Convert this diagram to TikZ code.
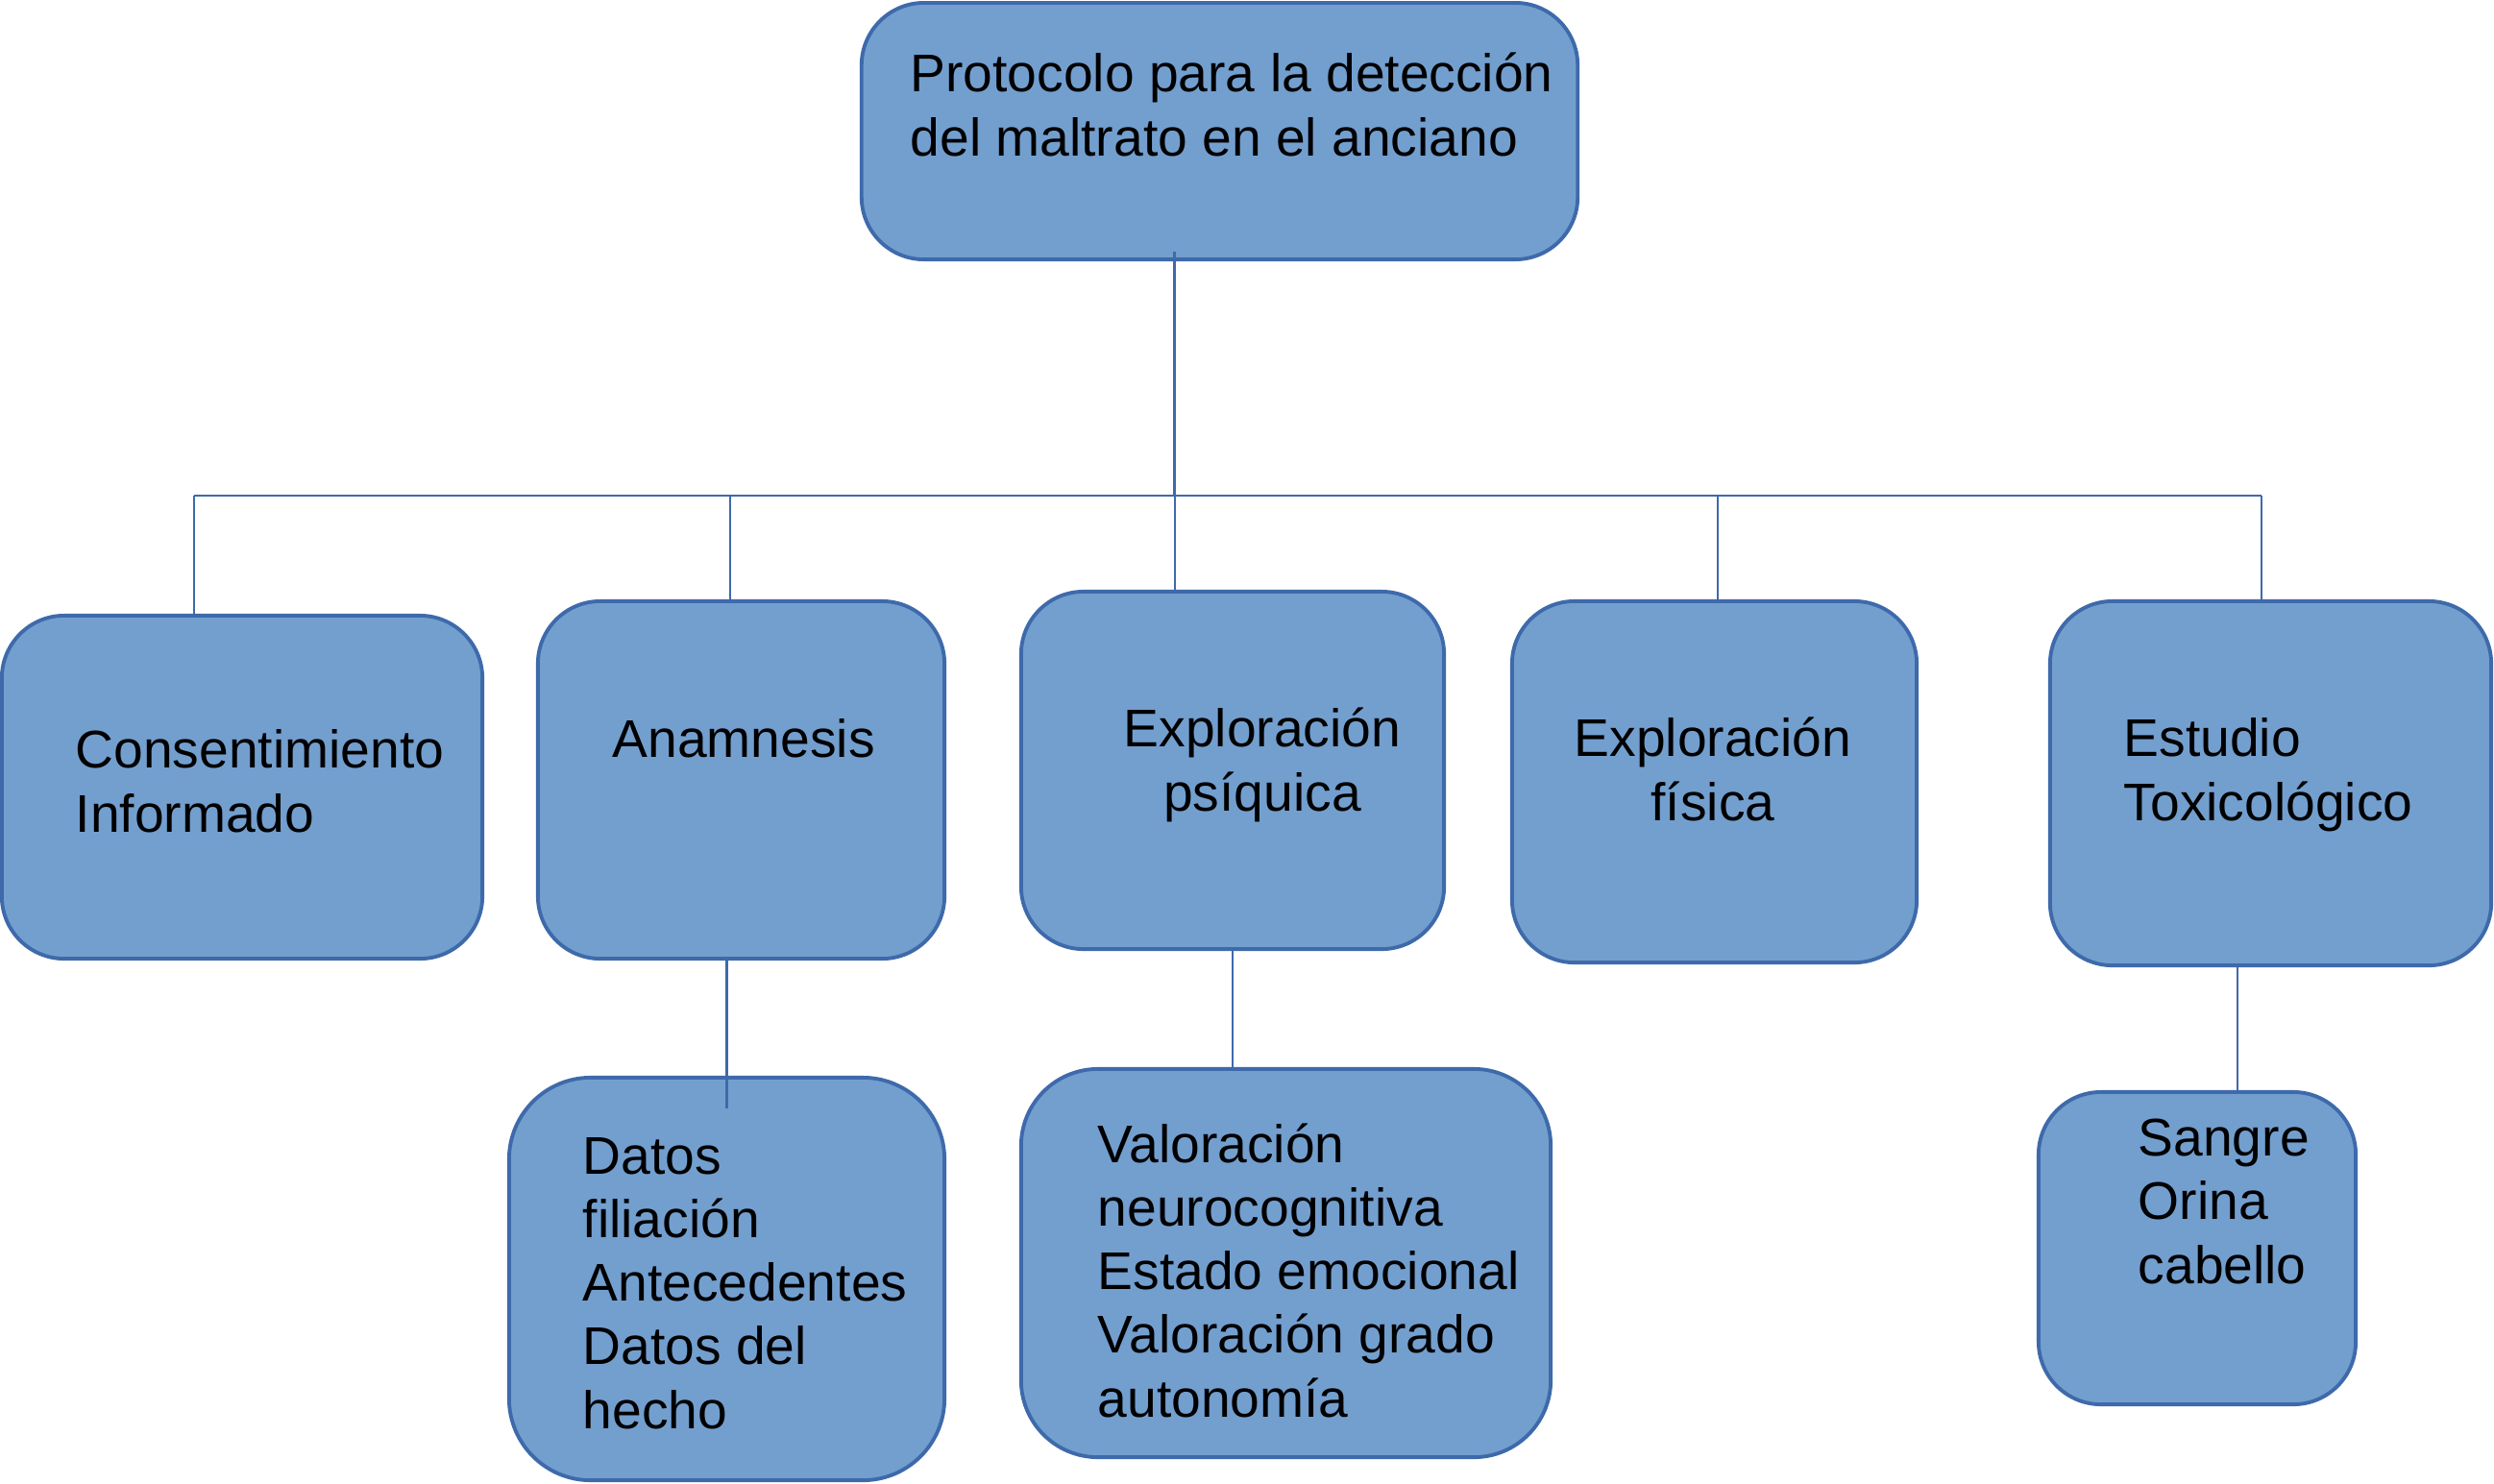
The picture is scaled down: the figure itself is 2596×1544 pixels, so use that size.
\documentclass[tikz,border=0pt]{standalone}
\usepackage{fontspec}
\setmainfont{Liberation Sans}
\definecolor{boxfill}{RGB}{115,159,207}
\definecolor{boxline}{RGB}{62,106,171}

\begin{document}
\begin{tikzpicture}[x=0.01cm, y=-0.01cm,
		box/.style = {draw = boxline, fill = boxfill, line width = 1.1pt, rounded corners = 0.65cm, inner sep = 0pt},
		txt/.style = {font = \fontsize{15.7pt}{18.8pt}\selectfont, inner sep = 0pt, anchor = base west, align = left},
		link/.style = {draw = boxline, line width = 0.7pt}]
		\useasboundingbox (0,0) rectangle (2596,1544);
		% cajas
		\node[box, minimum width = 7.45cm, minimum height = 2.67cm] (top) at (1269.5,136.5) {};
		\node[box, minimum width = 5.00cm, minimum height = 3.57cm] (c1) at (252,819.5) {};
		\node[box, minimum width = 4.23cm, minimum height = 3.72cm] (c2) at (771.5,812) {};
		\node[box, minimum width = 4.40cm, minimum height = 3.72cm] (c3) at (1283,802) {};
		\node[box, minimum width = 4.21cm, minimum height = 3.76cm] (c4) at (1784.5,814) {};
		\node[box, minimum width = 4.59cm, minimum height = 3.79cm] (c5) at (2363.5,815.5) {};
		\node[box, rounded corners = 0.85cm, minimum width = 4.53cm, minimum height = 4.19cm] (d2) at (756.5,1331.5) {};
		\node[box, rounded corners = 0.8cm, minimum width = 5.51cm, minimum height = 4.04cm] (d3) at (1338.5,1315) {};
		\node[box, minimum width = 3.30cm, minimum height = 3.25cm] (d5) at (2287,1299.5) {};
		% textos (base = ultima linea)
		\node[txt] (ttop) at (947,162) {Protocolo para la detección\\del maltrato en el anciano};
		\node[txt] (t1) at (78,866) {Consentimiento\\Informado};
		\node[txt] (t2) at (637,788) {Anamnesis};
		\node[txt, anchor = base, align = center] (t3) at (1314,844) {Exploración\\psíquica};
		\node[txt, anchor = base, align = center] (t4) at (1783,854) {Exploración\\física};
		\node[txt] (t5) at (2210,854) {Estudio\\Toxicológico};
		\node[txt] (t6) at (606,1487) {Datos\\filiación\\Antecedentes\\Datos del\\hecho};
		\node[txt] (t7) at (1142,1475) {Valoración\\neurocognitiva\\Estado emocional\\Valoración grado\\autonomía};
		\node[txt] (t8) at (2225,1336) {Sangre\\Orina\\cabello};
		% conectores
		\coordinate (bar) at (0,516);
		\draw[link] ([xshift=-0.47cm,yshift=0.1cm]top.south) -- ([xshift=-0.47cm]top.south |- bar);
		\draw[link] ([xshift=-0.5cm]c1.north |- bar) -- ([xshift=-0.095cm]c5.north |- bar);
		\draw[link] ([xshift=-0.5cm]c1.north) -- ([xshift=-0.5cm]c1.north |- bar);
		\draw[link] ([xshift=-0.115cm]c2.north) -- ([xshift=-0.115cm]c2.north |- bar);
		\draw[link] ([xshift=-0.6cm]c3.north) -- ([xshift=-0.6cm]c3.north |- bar);
		\draw[link] ([xshift=0.035cm]c4.north) -- ([xshift=0.035cm]c4.north |- bar);
		\draw[link] ([xshift=-0.095cm]c5.north) -- ([xshift=-0.095cm]c5.north |- bar);
		\draw[link] (c2.south -| d2.north) -- ([yshift=-0.34cm]d2.north);
		\draw[link] (c3.south) -- (c3.south |- d3.north);
		\draw[link] ([xshift=-0.345cm]c5.south) -- ([xshift=-0.345cm]c5.south |- d5.north);
		\end{tikzpicture}
\end{document}
